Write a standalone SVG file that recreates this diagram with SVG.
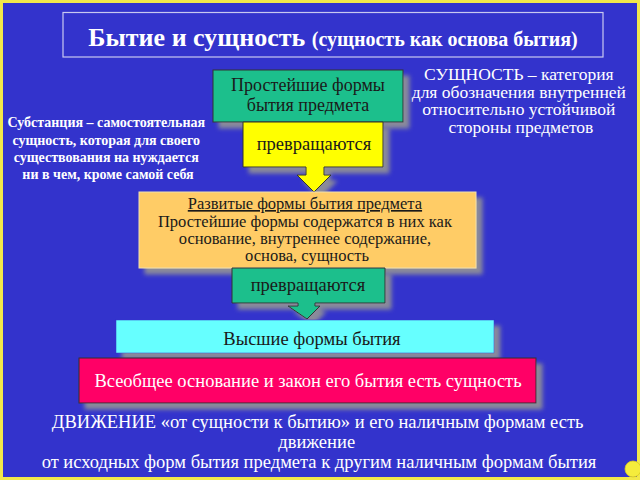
<svg xmlns="http://www.w3.org/2000/svg" width="640" height="480" viewBox="0 0 640 480">
<defs>
<filter id="sh" x="-10%" y="-20%" width="130%" height="160%">
<feGaussianBlur in="SourceAlpha" stdDeviation="2"/>
<feOffset dx="6" dy="6" result="b"/>
<feFlood flood-color="#8a8a9a"/>
<feComposite in2="b" operator="in"/>
<feMerge><feMergeNode/><feMergeNode in="SourceGraphic"/></feMerge>
</filter>
<style>
text{text-anchor:middle}
.w{fill:#ffffff}
.k{fill:#1a1a1a}
.box{stroke:#333333;stroke-width:1}
</style>
</defs>
<rect x="0" y="0" width="640" height="480" fill="#f2e84a"/>
<rect x="3" y="3" width="634" height="474" fill="#3333cc"/>

<g id="title">
<rect x="63" y="12.5" width="540" height="44.5" fill="none" stroke="#c8c8f0" stroke-width="1.2"/>
<text x="333" y="46" class="w" font-family="Liberation Serif, serif" font-weight="bold"><tspan font-size="26">Бытие и сущность </tspan><tspan font-size="20">(сущность как основа бытия)</tspan></text>
</g>

<g id="substance">
<text class="w" font-family="Liberation Serif, serif" font-size="14" font-weight="bold">
<tspan x="108" y="127">Субстанция – самостоятельная</tspan>
<tspan x="108" y="145">сущность, которая для своего</tspan>
<tspan x="108" y="162">существования на нуждается</tspan>
<tspan x="108" y="179">ни в чем, кроме самой себя</tspan>
</text>
</g>

<g id="essence">
<text class="w" font-family="Liberation Serif, serif" font-size="17.5">
<tspan x="521" y="80">СУЩНОСТЬ – категория</tspan>
<tspan x="521" y="97.5">для обозначения внутренней</tspan>
<tspan x="521" y="115">относительно устойчивой</tspan>
<tspan x="521" y="132.5">стороны предметов</tspan>
</text>
</g>

<g id="simple">
<rect x="213" y="70" width="190" height="52" fill="#1fbf8c" class="box" filter="url(#sh)"/>
<text class="k" font-family="Liberation Serif, serif" font-size="18"><tspan x="308" y="91">Простейшие формы</tspan><tspan x="308" y="111">бытия  предмета</tspan></text>
</g>

<g id="transform1">
<path d="M243,122 H383 V167 H324 V175 H331 L314,192 L297,175 H306 V167 H243 Z" fill="#ffff00" class="box" filter="url(#sh)"/>
<text x="314" y="150" class="k" font-family="Liberation Serif, serif" font-size="18.5">превращаются</text>
</g>

<g id="developed">
<rect x="139" y="192" width="337" height="76" fill="#ffcc66" stroke="#f0e0b0" stroke-width="1" filter="url(#sh)"/>
<text class="k" font-family="Liberation Serif, serif" font-size="16.5">
<tspan x="307" y="209" text-decoration="underline">Развитые формы бытия предмета</tspan>
<tspan x="307" y="226.5">Простейшие формы содержатся в них как</tspan>
<tspan x="307" y="244">основание, внутреннее содержание,</tspan>
<tspan x="307" y="261">основа, сущность</tspan>
</text>
</g>

<g id="transform2">
<path d="M232,268 H385 V303 H315 V306 H320 L307,319 L288,306 H298 V303 H232 Z" fill="#1fbf8c" class="box" filter="url(#sh)"/>
<text x="308" y="291" class="k" font-family="Liberation Serif, serif" font-size="18.5">превращаются</text>
</g>

<g id="higher">
<rect x="116" y="320" width="378" height="33" fill="#66ffff" stroke="#3333cc" stroke-width="0.5" filter="url(#sh)"/>
<text x="312" y="345" class="k" font-family="Liberation Serif, serif" font-size="18.5">Высшие формы бытия</text>
</g>

<g id="universal">
<rect x="79" y="358" width="457" height="45" fill="#ff0066" class="box" filter="url(#sh)"/>
<text x="308" y="387" class="w" font-family="Liberation Serif, serif" font-size="18.5">Всеобщее основание и закон его бытия есть сущность</text>
</g>

<g id="movement">
<text class="w" font-family="Liberation Serif, serif" font-size="18.5">
<tspan x="320" y="428">ДВИЖЕНИЕ «от сущности к бытию» и его наличным формам есть</tspan>
<tspan x="319" y="448">движение</tspan>
<tspan x="319" y="468">от исходных форм бытия предмета к другим наличным формам бытия</tspan>
</text>
</g>

<g id="connectors"></g>

<circle cx="633" cy="469" r="8" fill="#f5ec3c" stroke="#d8cc20" stroke-width="0.8"/>
</svg>
